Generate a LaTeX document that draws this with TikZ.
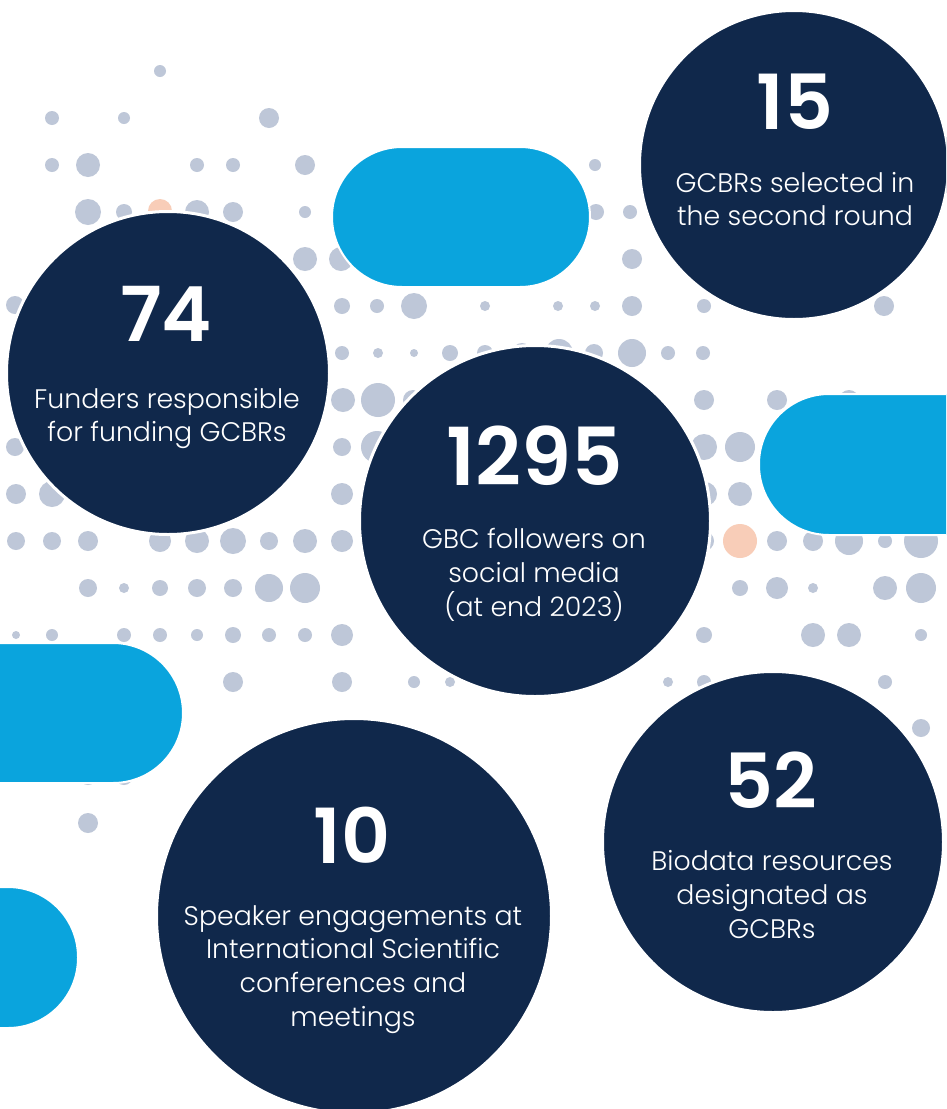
\documentclass[tikz,border=0pt]{standalone}
\usepackage{fontspec}
\setmainfont{Poppins}
\newfontfamily\numfont{Poppins SemiBold}
\newfontfamily\txtfont{Poppins Light}
\definecolor{navy}{HTML}{10284B}
\definecolor{pillblue}{HTML}{0AA4DD}
\definecolor{dotgrey}{HTML}{BEC7D8}
\definecolor{peach}{HTML}{F8CDB8}
\begin{document}
\begin{tikzpicture}[x=1pt,y=-1pt,
  stat/.style={circle,fill=navy,draw=white,line width=3pt,inner sep=0pt,minimum size=#1},
  num/.style={text=white,font=\numfont\fontsize{76}{76}\selectfont,inner sep=0pt},
  bignum/.style={text=white,font=\numfont\fontsize{80}{80}\selectfont,inner sep=0pt},
  desc/.style={text=white,font=\txtfont\fontsize{26.8}{33.8}\selectfont,align=center,inner sep=0pt},
  pillshape/.style={fill=pillblue,draw=white,line width=2pt,rounded corners=70pt}]
\useasboundingbox (0,0) rectangle (946,1109);
\clip (0,0) rectangle (946,1109);
\fill[white] (0,0) rectangle (946,1109);
% dots
\foreach \x/\y/\r in {
 160/71/6,
 52/118/7, 124/118/6, 269/118/10,
 52/165/7, 88/165/12, 197/165/7, 233/165/7, 305/165/10, 595/165/6,
 88/212/13, 124/212/8, 197/212/12, 233/212/10, 305/212/6, 596/212/8, 630/212/7,
 305/259/12, 341/259/12, 632/259/10,
 15/305/9, 342/306/8, 377/306/7, 414/306/13, 485/306/5, 558/306/5, 595/306/5, 632/306/10, 704/306/7, 884/306/10,
 342/353/7, 378/353/5, 414/353/4, 450/353/8, 485/353/8, 522/353/10, 559/353/14, 594/353/9, 632/353/14, 668/353/7, 703/353/7,
 343/400/12, 378/400/17, 413/400/10, 704/400/10, 777/400/10, 849/400/10,
 15/447/9, 342/447/9, 377/447/16, 704/447/13, 740/447/15,
 16/494/10, 52/494/13, 342/494/11, 705/494/12, 740/494/12,
 16/541/9, 52/541/9, 88/541/10, 160/541/11, 197/541/12, 233/541/13, 269/541/9, 305/541/12, 342/541/11, 704/541/10, 777/541/10, 813/541/10, 849/541/14, 885/541/7, 921/541/17,
 88/588/9, 124/588/5, 160/588/8, 197/588/9, 233/588/9, 269/588/14, 305/588/15, 740/588/8, 777/588/11, 813/588/5, 885/588/12, 921/588/15,
 16/635/4, 52/635/6, 124/635/7, 160/635/7, 197/635/6, 233/635/8, 269/635/7, 305/635/7, 342/635/11, 704/635/8, 813/635/12, 849/635/12, 921/635/6,
 233/682/10, 342/682/10, 414/682/6, 450/682/5, 668/682/5, 704/682/7, 885/682/7,
 921/728/9,
 88/776/9, 124/776/9,
 88/823/10}
 {\fill[dotgrey] (\x,\y) circle[radius=\r pt];}
\fill[peach] (160,211) circle[radius=12pt];
\fill[peach] (740,541) circle[radius=17pt];
% pills
\draw[pillshape] (332,147) rectangle (590,287);
\draw[pillshape] (759,394) rectangle (1100,535);
\draw[pillshape] (-200,643) rectangle (183,783);
\draw[pillshape] (-200,887) rectangle (78,1028);
% stat circles
\node[stat=309pt] (c15) at (794,165) {};
\node[stat=323pt] (c74) at (168,373) {};
\node[stat=351pt] (c1295) at (535,521) {};
\node[stat=341pt] (c52) at (773,842) {};
\node[stat=395pt] (c10) at (354,916) {};
% texts
\node[num] (n15) at (795,102) {15};
\node[desc] (d15) at (795,199) {GCBRs selected in\\the second round};
\node[num] (n74) at (166,314) {74};
\node[desc] (d74) at (167,418.5) {Funders responsible\\for funding GCBRs};
\node[bignum] (n1295) at (535,456) {1295};
\node[desc] (d1295) at (534,575) {GBC followers on\\social media\\(at end 2023)};
\node[num] (n52) at (771,780) {52};
\node[desc] (d52) at (772,894.5) {Biodata resources\\designated as\\GCBRs};
\node[num] (n10) at (352,835) {10};
\node[desc] (d10) at (353,969.5) {Speaker engagements at\\International Scientific\\conferences and\\meetings};
\end{tikzpicture}
\end{document}
